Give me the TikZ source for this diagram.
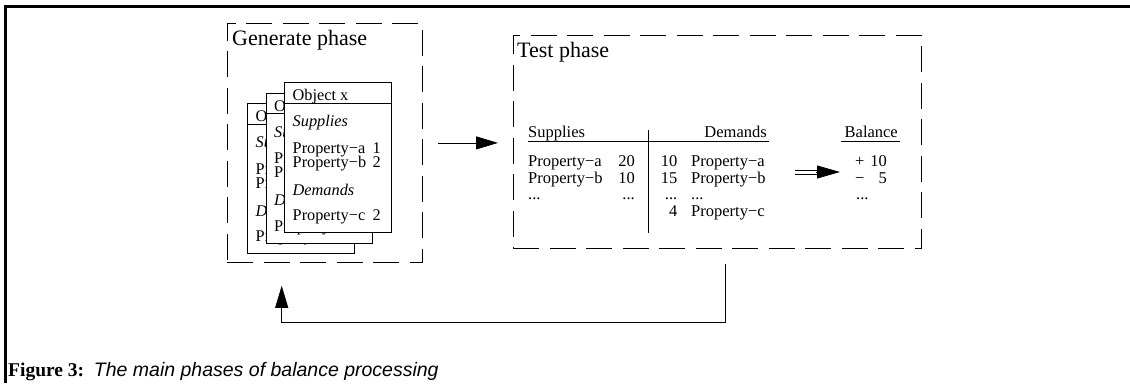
\documentclass[tikz,border=0pt]{standalone}
\usepackage{fontspec}
\setmainfont{Liberation Serif}
\newfontfamily\capsans{Liberation Sans}
\usetikzlibrary{arrows.meta}
\tikzset{
  phasebox/.style={draw, dash pattern=on 26pt off 10.5pt, line width=0.8pt, inner sep=0pt, anchor=north west},
  phaselbl/.style={inner sep=0pt, anchor=base west, font=\fontsize{22}{26}\selectfont},
  card/.style={draw, fill=white, line width=0.8pt, inner sep=0pt, anchor=north west, minimum width=106.5pt, minimum height=150pt},
  ctext/.style={inner sep=0pt, anchor=base west, font=\fontsize{16.3}{19}\selectfont},
  cnum/.style={inner sep=0pt, anchor=base east, font=\fontsize{16.3}{19}\selectfont},
  ttext/.style={inner sep=0pt, anchor=base west, font=\fontsize{16.5}{19}\selectfont},
  tnum/.style={inner sep=0pt, anchor=base east, font=\fontsize{16.5}{19}\selectfont},
  conn/.style={line width=0.8pt},
  bigtip/.style={-{Triangle[length=22pt,width=13pt]}},
}
\begin{document}
\begin{tikzpicture}[x=1pt,y=-1pt]
\useasboundingbox (0,0) rectangle (1130,383);
% outer frame
\draw[line width=3pt] (5.7,383) -- (5.7,6.7) -- (1130,6.7);
% phase boxes
\node[phasebox, minimum width=195pt, minimum height=239pt] (gen) at (227,23) {};
\node[phaselbl] (genlbl) at (232,45) {Generate phase};
\node[phasebox, minimum width=408pt, minimum height=213pt] (test) at (513,35) {};
\node[phaselbl] (testlbl) at (517,57) {Test phase};
% cards
\foreach \n/\cx/\cy in {1/247/103, 2/265.5/92.5, 3/284/82}{
  \node[card] (card\n) at (\cx,\cy) {};
  \draw[conn] ([yshift=-21.3pt]card\n.north west) -- ([yshift=-21.3pt]card\n.north east);
  \node[ctext] (obj\n) at ([xshift=8.5pt,yshift=-18.5pt]card\n.north west) {Object x};
  \node[ctext] (sup\n) at ([xshift=8.5pt,yshift=-44.7pt]card\n.north west) {\itshape Supplies};
  \node[ctext] (pa\n) at ([xshift=8.5pt,yshift=-71.3pt]card\n.north west) {Property−a};
  \node[cnum] (pan\n) at ([xshift=97pt,yshift=-71.3pt]card\n.north west) {1};
  \node[ctext] (pb\n) at ([xshift=8.5pt,yshift=-85.3pt]card\n.north west) {Property−b};
  \node[cnum] (pbn\n) at ([xshift=97pt,yshift=-85.3pt]card\n.north west) {2};
  \node[ctext] (dem\n) at ([xshift=8.5pt,yshift=-113pt]card\n.north west) {\itshape Demands};
  \node[ctext] (pc\n) at ([xshift=8.5pt,yshift=-138.7pt]card\n.north west) {Property−c};
  \node[cnum] (pcn\n) at ([xshift=97pt,yshift=-138.7pt]card\n.north west) {2};
}
% table
\node[ttext] (hsup) at (528,137.5) {Supplies};
\node[tnum] (hdem) at (767,137.5) {Demands};
\node[tnum] (hbal) at (898,137.5) {Balance};
\draw[conn] (528,141.5) -- (769,141.5);
\draw[conn] (841,141.5) -- (900,141.5);
\draw[conn] (648.3,130) -- (648.3,233);
\node[ttext] (s1) at (528,166.5) {Property−a};
\node[tnum] (s1n) at (635,166.5) {20};
\node[ttext] (s2) at (528,183) {Property−b};
\node[tnum] (s2n) at (635,183) {10};
\node[ttext] (s3) at (528,199.5) {...};
\node[tnum] (s3n) at (635,199.5) {...};
\node[tnum] (d1n) at (677.5,166.5) {10};
\node[ttext] (d1) at (691,166.5) {Property−a};
\node[tnum] (d2n) at (677.5,183) {15};
\node[ttext] (d2) at (691,183) {Property−b};
\node[tnum] (d3n) at (677.5,199.5) {...};
\node[ttext] (d3) at (691,199.5) {...};
\node[tnum] (d4n) at (677.5,216.5) {4};
\node[ttext] (d4) at (691,216.5) {Property−c};
\node[ttext] (b1s) at (855,166.5) {+};
\node[tnum] (b1) at (887,166.5) {10};
\node[ttext] (b2s) at (855,183) {−};
\node[tnum] (b2) at (887,183) {5};
\node[ttext] (b3) at (856,199.5) {...};
% double arrow
\coordinate (da0) at (795,172);
\coordinate (da1) at (840,172);
\draw[conn] ([yshift=-2pt]da0) -- ([xshift=-20pt,yshift=-2pt]da1);
\draw[conn] ([yshift=2pt]da0) -- ([xshift=-20pt,yshift=2pt]da1);
\draw[conn, -{Triangle[length=23pt,width=13pt]}] ([xshift=-24pt]da1) -- (da1);
% phase arrows
\draw[conn, bigtip, shorten <=15pt, shorten >=15pt] (gen.east) -- (gen.east -| test.west);
\coordinate (r1) at (725,322.7);
\coordinate (r2) at (281.7,322.7);
\draw[conn, bigtip, shorten <=15pt, shorten >=23pt] (r1 |- test.south) -- (r1) -- (r2) -- (r2 |- gen.south);
% caption
\node[inner sep=0pt, anchor=base west, font=\fontsize{19.5}{22}\selectfont] (cap) at (8,376)
  {\textbf{Figure 3:}\enspace{\capsans\itshape The main phases of balance processing}};
\end{tikzpicture}
\end{document}
